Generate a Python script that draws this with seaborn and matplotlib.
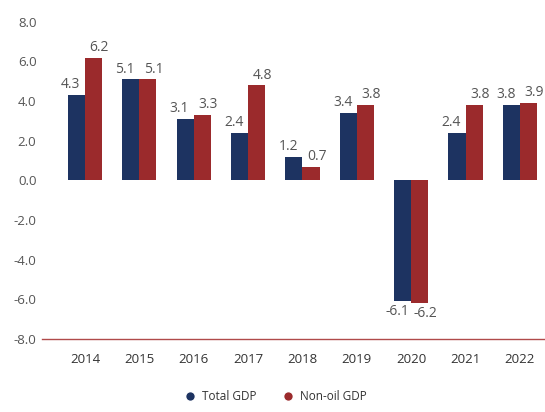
import matplotlib
matplotlib.use("Agg")
import matplotlib.pyplot as plt
from matplotlib.lines import Line2D
import seaborn as sns
import pandas as pd

years = ["2014", "2015", "2016", "2017", "2018", "2019", "2020", "2021", "2022"]
total_gdp = [4.3, 5.1, 3.1, 2.4, 1.2, 3.4, -6.1, 2.4, 3.8]
nonoil_gdp = [6.2, 5.1, 3.3, 4.8, 0.7, 3.8, -6.2, 3.8, 3.9]
series_names = ["Total GDP", "Non-oil GDP"]
yticks = [8.0, 6.0, 4.0, 2.0, 0.0, -2.0, -4.0, -6.0, -8.0]

navy = "#1d3361"
red = "#9b2a2c"
gray = "#555555"

df = pd.DataFrame({
    "year": years * 2,
    "value": total_gdp + nonoil_gdp,
    "series": [series_names[0]] * len(years) + [series_names[1]] * len(years),
})

sns.set_theme(style="white")
plt.rcParams["font.family"] = ["Open Sans", "DejaVu Sans"]

fig = plt.figure(figsize=(5.45, 4.12), dpi=100)
ax = fig.add_axes([0.077, 0.177, 0.923, 0.77])

sns.barplot(data=df, x="year", y="value", hue="series", order=years,
            hue_order=series_names, palette=[navy, red], width=0.63,
            saturation=1, ax=ax, legend=False, linewidth=0, edgecolor="none")

offsets = [-4, 4]
for cont, dx in zip(ax.containers, offsets):
    for bar, v in zip(cont, cont.datavalues):
        x = bar.get_x() + bar.get_width() / 2
        dy = 2 if v >= 0 else -2
        ax.annotate(f"{v:.1f}", (x, v), xytext=(dx, dy), textcoords="offset points",
                    ha="center", va="bottom" if v >= 0 else "top",
                    fontsize=10, color=gray)

ax.set_ylim(-8, 8)
ax.set_xlim(-0.79, 8.46)
ax.set_yticks(yticks)
ax.set_yticklabels([f"{t:.1f}" for t in yticks])
ax.tick_params(axis="y", labelsize=9.5, labelcolor=gray, length=0, pad=4)
ax.tick_params(axis="x", labelsize=9.5, labelcolor="#333333", length=0, pad=10)
ax.set_xlabel("")
ax.set_ylabel("")
for s in ["top", "right", "left"]:
    ax.spines[s].set_visible(False)
ax.spines["bottom"].set_color("#b04a4a")
ax.spines["bottom"].set_linewidth(1.0)

handles = [Line2D([0], [0], marker="o", color="w", markerfacecolor=c,
                  markersize=7, label=n) for c, n in zip([navy, red], series_names)]
fig.legend(handles=handles, loc="lower center", bbox_to_anchor=(0.50, -0.005),
           ncol=2, frameon=False, fontsize=8.5, handletextpad=0.05,
           columnspacing=1.6, labelcolor="#333333")

fig.savefig("out.png", dpi=100)
